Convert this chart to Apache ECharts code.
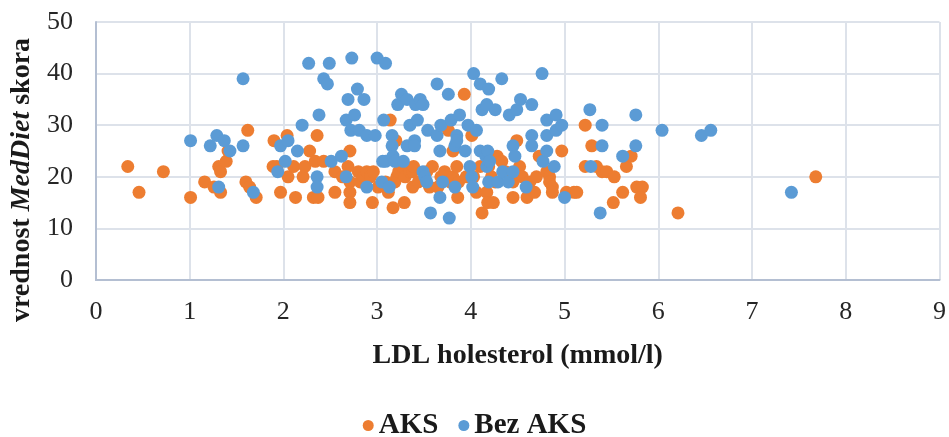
<!DOCTYPE html>
<html>
<head>
<meta charset="utf-8"/>
<script src="https://cdn.jsdelivr.net/npm/echarts@6/dist/echarts.min.js"></script>
<style>
html,body{margin:0;padding:0;background:#fff;}
#chart{width:949px;height:437px;}
</style>
</head>
<body>
<div id="chart"></div>
<script>
// LDL (mmol/l), MedDiet score
var aksPoints = [
 [0.34,22],[0.46,17],[0.72,21],[1.01,16],[1.16,19],[1.26,18],[1.31,22],[1.33,21],[1.33,17],[1.39,23],
 [1.41,25],[1.6,19],[1.62,29],[1.64,18],[1.71,16],[1.89,22],[1.9,27],[1.97,17],[2.04,28],[2.05,20],
 [1.93,22],[2.11,22],[2.13,16],[2.21,20],[2.23,22],[2.28,25],[2.34,23],[2.32,16],[2.37,16],[2.36,28],
 [2.43,23],[2.55,21],[2.55,17],[2.63,20],[2.69,22],[2.71,25],[2.71,19],[2.71,17],[2.71,15],[2.8,21],
 [2.82,19],[2.86,20],[2.89,21],[2.93,20],[2.96,21],[2.95,15],[3.01,18],[3.09,19],[3.12,17],[3.17,14],
 [3.14,31],[3.2,27],[3.19,19],[3.21,20],[3.23,21],[3.27,22],[3.29,15],[3.3,20],[3.35,21],[3.38,18],
 [3.38,21],[3.39,22],[3.44,19],[3.53,21],[3.56,18],[3.59,22],[3.65,18],[3.68,20],[3.72,21],[3.76,29],
 [3.78,19],[3.81,20],[3.81,25],[3.85,22],[3.86,16],[3.87,19],[3.93,36],[3.95,20],[4.01,28],[4.03,20],
 [4.06,17],[4.1,22],[4.12,13],[4.17,17],[4.18,15],[4.24,15],[4.19,22],[4.22,20],[4.26,19],[4.28,24],
 [4.33,23],[4.37,21],[4.45,19],[4.45,16],[4.49,27],[4.52,22],[4.55,20],[4.6,16],[4.63,19],[4.68,17],
 [4.7,20],[4.73,24],[4.81,21],[4.84,20],[4.84,19],[4.87,18],[4.87,17],[4.97,25],[5.02,17],[5.1,17],
 [5.13,17],[5.22,30],[5.29,26],[5.22,22],[5.34,22],[5.4,21],[5.45,21],[5.53,20],[5.52,15],[5.62,17],
 [5.66,22],[5.71,24],[5.77,18],[5.83,18],[5.81,16],[6.21,13],[7.68,20]
];
var bezAksPoints = [
 [1.01,27],[1.22,26],[1.29,28],[1.31,18],[1.37,27],[1.43,25],[1.57,26],[1.57,39],[1.68,17],[1.94,21],
 [1.97,26],[2.02,23],[2.05,27],[2.15,25],[2.2,30],[2.27,42],[2.36,20],[2.36,18],[2.38,32],[2.43,39],
 [2.47,38],[2.49,42],[2.51,23],[2.62,24],[2.67,20],[2.67,31],[2.69,35],[2.72,29],[2.73,43],[2.76,32],
 [2.79,37],[2.81,29],[2.86,35],[2.89,28],[2.89,18],[2.98,28],[3.0,43],[3.05,19],[3.06,23],[3.07,31],
 [3.09,42],[3.09,23],[3.13,18],[3.16,28],[3.16,26],[3.17,24],[3.19,23],[3.22,34],[3.26,36],[3.28,23],
 [3.32,35],[3.32,26],[3.35,30],[3.4,27],[3.4,26],[3.41,34],[3.43,31],[3.46,35],[3.49,34],[3.49,21],
 [3.51,20],[3.53,19],[3.54,29],[3.57,13],[3.64,38],[3.64,28],[3.67,25],[3.67,16],[3.68,30],[3.7,19],
 [3.76,36],[3.77,12],[3.79,31],[3.83,26],[3.83,18],[3.85,28],[3.85,27],[3.88,32],[3.94,25],[3.97,30],
 [3.99,22],[4.01,20],[4.02,18],[4.03,40],[4.06,29],[4.1,38],[4.1,25],[4.12,33],[4.16,24],[4.17,34],
 [4.17,22],[4.18,25],[4.19,37],[4.19,19],[4.2,23],[4.26,33],[4.29,19],[4.33,39],[4.34,21],[4.4,19],
 [4.41,32],[4.45,26],[4.45,21],[4.47,24],[4.49,33],[4.53,35],[4.59,18],[4.65,34],[4.65,28],[4.65,26],
 [4.76,40],[4.77,23],[4.81,31],[4.81,28],[4.81,25],[4.89,22],[4.91,32],[4.91,29],[4.97,30],[5.0,16],
 [5.27,33],[5.28,22],[5.38,13],[5.4,30],[5.4,26],[5.62,24],[5.76,32],[5.76,26],[6.04,29],[6.46,28],
 [6.56,29],[7.42,17]
];
var seriesNames = ['AKS', 'Bez AKS'];

var font = '"Liberation Serif", "Times New Roman", serif';
var chart = echarts.init(document.getElementById('chart'));
chart.setOption({
  animation: false,
  textStyle: {fontFamily: font},
  grid: {left: 95, right: 8, top: 22, bottom: 157},
  legend: {
    data: seriesNames,
    top: 406,
    left: 'center',
    icon: 'circle',
    itemWidth: 11,
    itemHeight: 11,
    itemGap: 20,
    textStyle: {fontFamily: font, fontSize: 29, fontWeight: 'bold', color: '#1a1a1a'}
  },
  xAxis: {
    type: 'value',
    min: 0, max: 9, interval: 1,
    name: 'LDL holesterol (mmol/l)',
    nameLocation: 'middle',
    nameGap: 62,
    nameTextStyle: {fontFamily: font, fontSize: 28, fontWeight: 'bold', color: '#1a1a1a'},
    axisLine: {lineStyle: {color: '#b4bfd2', width: 2}},
    axisTick: {show: false},
    axisLabel: {fontFamily: font, fontSize: 26, color: '#262626', margin: 19},
    splitLine: {show: true, lineStyle: {color: '#dde2ea', width: 2}}
  },
  yAxis: {
    type: 'value',
    min: 0, max: 50, interval: 10,
    name: '{b|vrednost }{i|MedDiet}{b| skora}',
    nameLocation: 'middle',
    nameGap: 56,
    nameRotate: 90,
    nameTextStyle: {
      padding: [0, 58, 0, 0],
      rich: {
        b: {fontFamily: font, fontSize: 28, fontWeight: 'bold', color: '#1a1a1a'},
        i: {fontFamily: font, fontSize: 28, fontWeight: 'bold', fontStyle: 'italic', color: '#1a1a1a'}
      }
    },
    axisLine: {show: true, lineStyle: {color: '#b4bfd2', width: 2}},
    axisTick: {show: false},
    axisLabel: {fontFamily: font, fontSize: 26, color: '#262626', margin: 23},
    splitLine: {show: true, lineStyle: {color: '#dde2ea', width: 2}}
  },
  series: [
    {name: seriesNames[0], type: 'scatter', symbolSize: 13, data: aksPoints,
     itemStyle: {color: '#ED7D31', opacity: 1}},
    {name: seriesNames[1], type: 'scatter', symbolSize: 13, data: bezAksPoints,
     itemStyle: {color: '#5B9BD5', opacity: 1}}
  ]
});
</script>
</body>
</html>
